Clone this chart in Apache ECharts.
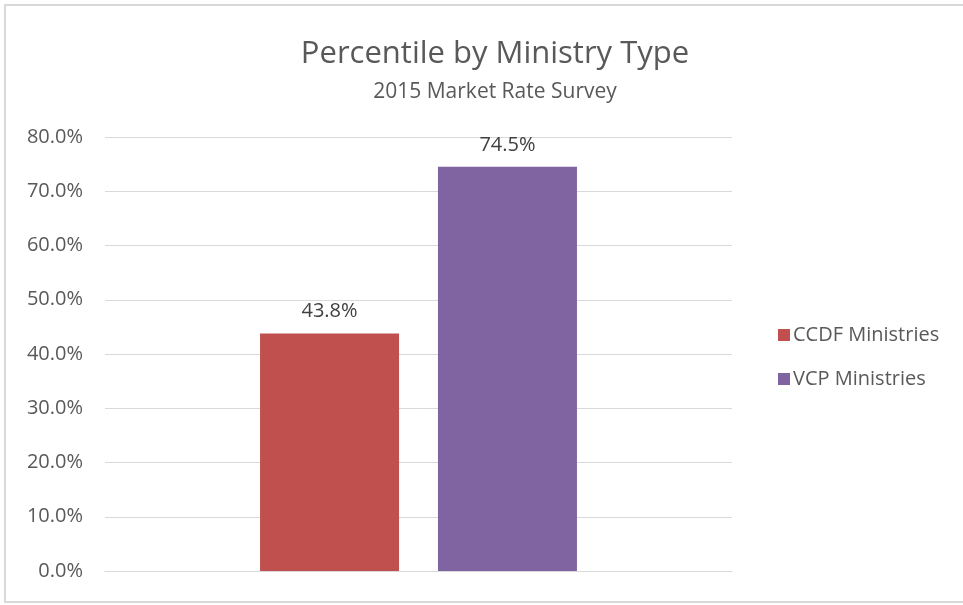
<!DOCTYPE html>
<html>
<head>
<meta charset="utf-8">
<script src="https://cdn.jsdelivr.net/npm/echarts@6/dist/echarts.min.js"></script>
<style>html,body{margin:0;padding:0;background:#fff;}#c{width:963px;height:605px;}</style>
</head>
<body>
<div id="c"></div>
<script>
var titleText = 'Percentile by Ministry Type';
var subtitleText = '2015 Market Rate Survey';
var categories = [''];
var seriesNames = ['CCDF Ministries', 'VCP Ministries'];
var ccdfValues = [43.8];
var vcpValues = [74.5];
var seriesColors = ['#C0504D', '#8064A2'];
var yMin = 0, yMax = 80, yStep = 10;

var font = '"Open Sans", "Liberation Sans", sans-serif';
var chart = echarts.init(document.getElementById('c'), null, {renderer: 'canvas'});
function mkSeries(name, values, color) {
  return {
    name: name, type: 'bar', data: values,
    barWidth: 139, barGap: '28%',
    itemStyle: {color: color},
    label: {show: true, position: 'top', distance: 12, color: '#404040', fontSize: 20, fontFamily: font,
      formatter: function (p) { return p.value.toFixed(1) + '%'; }}
  };
}
chart.setOption({
  animation: false,
  backgroundColor: '#fff',
  graphic: [{type: 'rect', shape: {x: 5, y: 5, width: 980, height: 597}, style: {fill: 'none', stroke: '#D9D9D9', lineWidth: 2}, silent: true}],
  title: {
    text: titleText, subtext: subtitleText, left: 490, textAlign: 'center', top: 34, itemGap: 12,
    textStyle: {color: '#595959', fontSize: 31, fontWeight: 'normal', fontFamily: font},
    subtextStyle: {color: '#595959', fontSize: 21, fontFamily: font}
  },
  legend: {
    orient: 'vertical', left: 773, top: 320, itemWidth: 12, itemHeight: 12, itemGap: 24,
    icon: 'rect', textStyle: {color: '#595959', fontSize: 20, fontFamily: font, padding: [0, 0, 0, -2]}, data: seriesNames
  },
  grid: {left: 105, right: 231, top: 137, bottom: 34, containLabel: false},
  xAxis: {type: 'category', data: categories, axisLine: {lineStyle: {color: '#D9D9D9'}}, axisTick: {show: false}, axisLabel: {show: false}},
  yAxis: {type: 'value', min: yMin, max: yMax, interval: yStep,
    axisLine: {show: false}, axisTick: {show: false},
    splitLine: {lineStyle: {color: '#D9D9D9', width: 1}},
    axisLabel: {margin: 22, color: '#595959', fontSize: 20, fontFamily: font, formatter: function (v) { return v.toFixed(1) + '%'; }}
  },
  series: [mkSeries(seriesNames[0], ccdfValues, seriesColors[0]), mkSeries(seriesNames[1], vcpValues, seriesColors[1])]
});
</script>
</body>
</html>
